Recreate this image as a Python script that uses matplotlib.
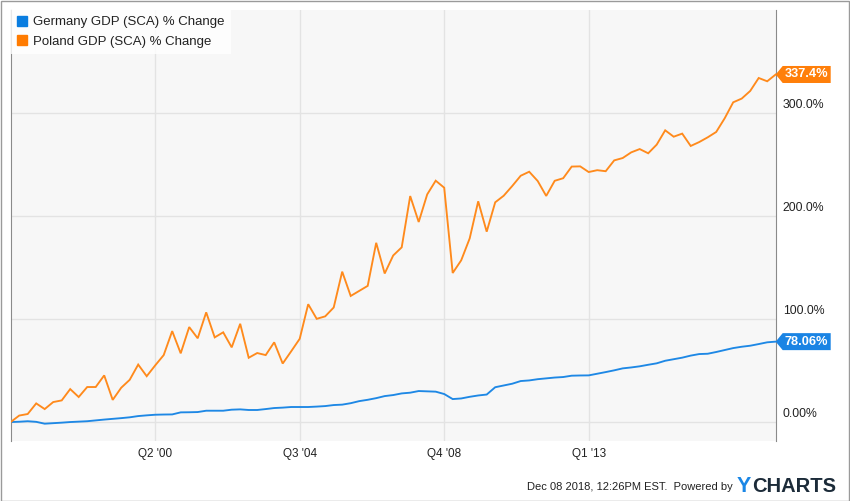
import matplotlib
matplotlib.use("Agg")
import matplotlib.pyplot as plt
import matplotlib.transforms as mtransforms
from matplotlib.lines import Line2D
from matplotlib.patches import Polygon, Rectangle
import numpy as np

# ---------------- data (quarterly, Q1 1996 .. Q3 2018) ----------------
quarters = [f"Q{q} {y}" for y in range(1996, 2019) for q in range(1, 5)][:91]

poland = [0, 6.3, 7.8, 18.1, 12.6, 19.4, 21, 32, 24.3, 34,
          34, 45.3, 21.5, 33.3, 41, 55.8, 44.5, 55, 65, 88.3,
          66.7, 92.2, 81.3, 106.5, 82.2, 87.1, 72.5, 95.4, 62.4, 67,
          65, 77.4, 56.8, 68.7, 80.8, 114.4, 100.2, 102.6, 111.2, 146,
          122.4, 127.3, 132.2, 174, 144.2, 161.7, 169.6, 219.4, 194.2, 221,
          234.3, 227.5, 144.7, 157, 178.3, 214.3, 184.8, 213.3, 219.7, 229.1,
          239.1, 243, 234, 219.5, 234.2, 236.7, 248, 248.2, 242.7, 244.5,
          243.5, 254, 256.3, 261.8, 265, 260.9, 269.3, 283.2, 277, 280,
          268, 271.8, 276.4, 281.6, 294.9, 310.4, 314, 321.4, 334, 330.8,
          337.4]

germany = [0, 0.3, 0.8, 0.2, -1.6, -1.1, -0.6, 0, 0.4, 0.8,
           1.6, 2.4, 3.1, 3.8, 4.6, 5.8, 6.5, 7.1, 7.3, 7.4,
           9.4, 9.5, 9.7, 11, 11, 11, 12, 12.3, 11.7, 11.7,
           12.6, 13.6, 14, 14.6, 14.6, 14.6, 15.0, 15.5, 16.5, 16.9,
           18.3, 20.3, 21.6, 23.2, 25.2, 26.2, 27.8, 28.5, 30.1, 29.8,
           29.5, 27.2, 22.3, 22.9, 24.5, 25.8, 26.7, 33.8, 35.5, 37.2,
           39.8, 40.4, 41.6, 42.4, 43.2, 43.7, 45, 45.2, 45.3, 46.9,
           48.5, 50.2, 52.1, 53, 54.1, 55.6, 57, 59.5, 61, 62.5,
           64.5, 66, 66.3, 68, 69.9, 71.8, 73.1, 74.1, 75.7, 77.4,
           78.06]

tick_quarters = ["Q2 2000", "Q3 2004", "Q4 2008", "Q1 2013"]
tick_labels = ["Q2 '00", "Q3 '04", "Q4 '08", "Q1 '13"]
y_ticks = [0, 100, 200, 300]
y_tick_labels = ["0.00%", "100.0%", "200.0%", "300.0%"]

series_names = ["Germany GDP (SCA) % Change", "Poland GDP (SCA) % Change"]
end_labels = ["78.06%", "337.4%"]

BLUE = "#1e88e5"
ORANGE = "#ff8a1c"
BLUE_TAG = "#1a84e4"
ORANGE_TAG = "#ff7f0a"
INK = "#222222"
GRID = "#e3e3e3"

plt.rcParams["font.family"] = ["Liberation Sans", "DejaVu Sans"]

fig = plt.figure(figsize=(8.5, 5.01), dpi=100)
W, H = 850, 501
# plot box in pixels: x 10.7..775.7, y 10..441 (top-down)
ax = fig.add_axes([10.7 / W, 1 - 441 / H, 765 / W, 431 / H])
ax.set_facecolor("#f7f7f7")

x = np.arange(len(quarters))
ax.plot(x, germany, color=BLUE, lw=1.35, solid_joinstyle="miter", zorder=3)
ax.plot(x, poland, color=ORANGE, lw=1.35, solid_joinstyle="miter", zorder=3)

ax.set_xlim(0, len(quarters) - 1)
ax.set_ylim(-18.4, 400)

xt = [quarters.index(q) for q in tick_quarters]
ax.set_xticks(xt)
ax.set_xticklabels(tick_labels, fontsize=8.5, color=INK)
ax.set_yticks(y_ticks)
ax.set_yticklabels(y_tick_labels, fontsize=8.8, color=INK)
ax.yaxis.tick_right()
ax.tick_params(axis="both", length=0)
ax.tick_params(axis="x", pad=5)
ax.tick_params(axis="y", pad=5)
# y labels sit above their gridline
off = mtransforms.ScaledTranslation(0, 0.1, fig.dpi_scale_trans)
for lab in ax.get_yticklabels():
    lab.set_transform(lab.get_transform() + off)

ax.grid(True, color=GRID, lw=1)
ax.set_axisbelow(True)
for s in ("top", "bottom"):
    ax.spines[s].set_visible(False)
ax.spines["left"].set_color("#8a8a8a")
ax.spines["right"].set_color("#8a8a8a")

# legend
handles = [Line2D([], [], ls="none", marker="s", markersize=7, color="#0a7de0"),
           Line2D([], [], ls="none", marker="s", markersize=7, color="#ff7b00")]
leg = ax.legend(handles, series_names, loc="upper left", bbox_to_anchor=(0, 1),
                borderaxespad=0, frameon=True, fancybox=False, framealpha=0.8,
                facecolor="white", edgecolor="none", fontsize=9.5,
                handlelength=0.8, handletextpad=0.45, labelspacing=0.55,
                borderpad=0.45)
for t in leg.get_texts():
    t.set_color(INK)

# end-value tags
inv = fig.transFigure.inverted()
for vals, txt, col in [(germany, end_labels[0], BLUE_TAG), (poland, end_labels[1], ORANGE_TAG)]:
    px, py = ax.transData.transform((len(vals) - 1, vals[-1]))
    pts = [(px, py), (px + 7, py + 8.5), (px + 55, py + 8.5),
           (px + 55, py - 8.5), (px + 7, py - 8.5)]
    fpts = inv.transform(pts)
    fig.patches.append(Polygon(fpts, closed=True, facecolor=col, edgecolor="none",
                               transform=fig.transFigure, zorder=5))
    cx, cy = inv.transform((px + 31, py))
    fig.text(cx, cy, txt, color="white", fontsize=9.2, fontweight="bold",
             ha="center", va="center", zorder=6)

# footer
fig.text(733 / W, 1 - 487 / H, "Dec 08 2018, 12:26PM EST.  Powered by",
         fontsize=8, color=INK, ha="right", va="center")
ty = fig.text(737 / W, 1 - 486 / H, "Y", fontsize=15.5, fontweight="bold",
              color="#1b87e6", ha="left", va="center")
renderer = fig.canvas.get_renderer()
ybox = ty.get_window_extent(renderer)
fig.text((ybox.x1 + 0.5) / W, 1 - 486 / H, "CHARTS", fontsize=14.5, fontweight="bold",
         color="#1c2b39", ha="left", va="center")

# outer frame
fig.patches.append(Rectangle((0.5 / W, 0.5 / H), 1 - 1.5 / W, 1 - 1.5 / H,
                             transform=fig.transFigure, fill=False,
                             edgecolor="#9a9a9a", lw=1))

fig.savefig("out.png", dpi=100)
